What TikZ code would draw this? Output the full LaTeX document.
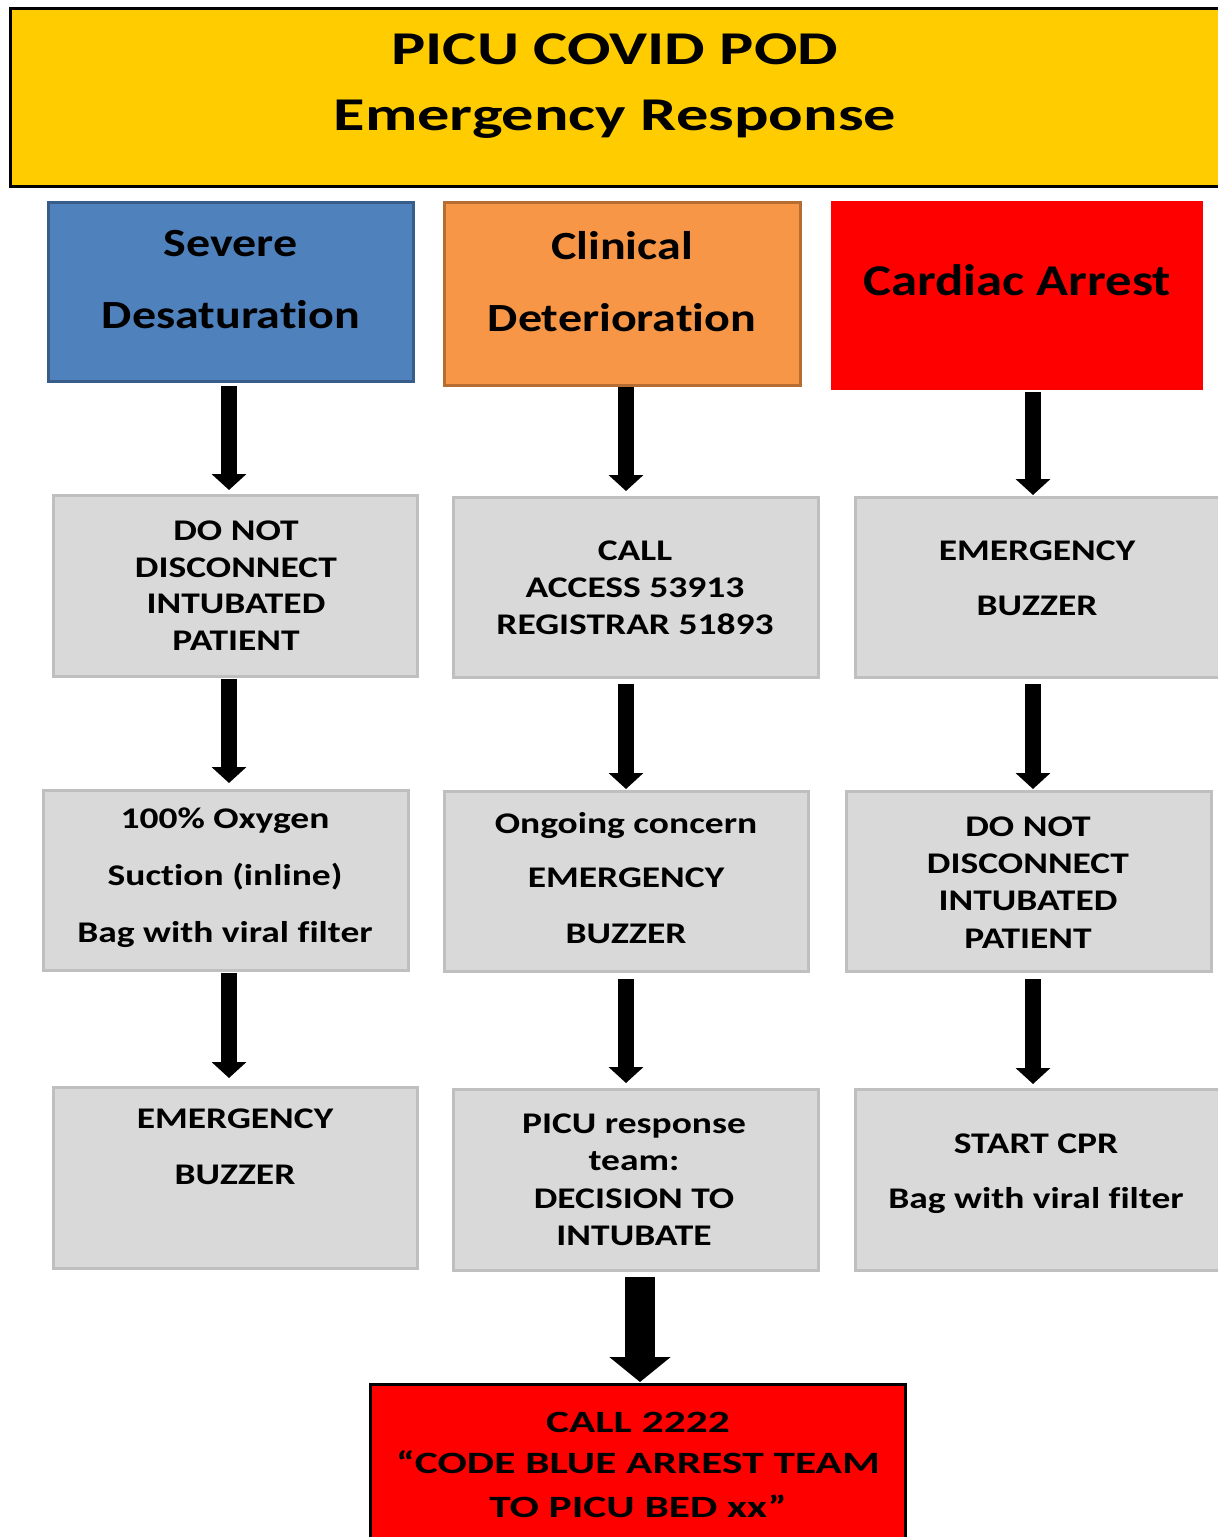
\documentclass[tikz,border=0pt]{standalone}
\usepackage{fontspec}
\usetikzlibrary{arrows.meta}

% Bold Carlito, widened to the proportions of the chart lettering
\newfontfamily\titlefont[FakeStretch=1.37,Ligatures=NoCommon]{Carlito Bold}
\newfontfamily\headfont[FakeStretch=1.2,Ligatures=NoCommon]{Carlito Bold}
\newfontfamily\bodyfont[FakeStretch=1.25,Ligatures=NoCommon]{Carlito Bold}
\newfontfamily\callfont[FakeStretch=1.4,Ligatures=NoCommon]{Carlito Bold}

\definecolor{titlegold}{HTML}{FFCC00}
\definecolor{blueFill}{HTML}{4F81BD}
\definecolor{blueEdge}{HTML}{385D8A}
\definecolor{orangeFill}{HTML}{F79646}
\definecolor{orangeEdge}{HTML}{B66D31}
\definecolor{alarmRed}{HTML}{FF0000}
\definecolor{greyFill}{HTML}{D9D9D9}
\definecolor{greyEdge}{HTML}{BFBFBF}

\tikzset{
  box/.style={rectangle, inner sep=0pt, outer sep=0pt, line width=3pt},
  stagebox/.style={box, fill=greyFill, draw=greyEdge, minimum width=365pt, minimum height=180pt},
  line/.style={anchor=base, inner sep=0pt, outer sep=0pt, text=black},
  titleline/.style={line, font=\titlefont\fontsize{47}{47}\selectfont},
  headline/.style={line, font=\headfont\fontsize{40}{40}\selectfont},
  headlinebig/.style={line, font=\headfont\fontsize{44}{44}\selectfont},
  bodyline/.style={line, font=\bodyfont\fontsize{30}{30}\selectfont},
  callline/.style={line, font=\callfont\fontsize{31}{31}\selectfont},
  flow/.style={draw=black, line width=16pt, -{Triangle[width=34pt,length=16pt]}},
  bigflow/.style={draw=black, line width=30pt, -{Triangle[width=60pt,length=25pt]}},
}

\begin{document}
\begin{tikzpicture}[x=1pt,y=-1pt]
\useasboundingbox (0,0) rectangle (1218,1537);
\clip (0,0) rectangle (1218,1537);
\fill[white] (0,0) rectangle (1218,1537);

% ---------- heading banner ----------
\node[box, fill=titlegold, draw=black, minimum width=1222pt, minimum height=178pt] (banner) at (621,97) {};
\node[titleline] (banner1) at (615,64) {PICU COVID POD};
\node[titleline] (banner2) at (615,130) {Emergency Response};

% ---------- three triggers ----------
\node[box, fill=blueFill, draw=blueEdge, minimum width=365pt, minimum height=179pt] (sev) at (230.5,291.5) {};
\node[headline] (sev1) at (230.5,256) {Severe};
\node[headline] (sev2) at (231,328) {Desaturation};

\node[box, fill=orangeFill, draw=orangeEdge, minimum width=356pt, minimum height=183pt] (clin) at (622,293.5) {};
\node[headline] (clin1) at (622,259) {Clinical};
\node[headline] (clin2) at (622,331) {Deterioration};

\node[box, fill=alarmRed, draw=alarmRed, minimum width=369pt, minimum height=186pt] (card) at (1016.5,295) {};
\node[headlinebig] (card1) at (1017,295) {Cardiac Arrest};

% ---------- second row ----------
\node[stagebox, minimum width=364pt, minimum height=181pt] (r2a) at (235,585.5) {};
\node[bodyline] (r2a1) at (236,540) {DO NOT};
\node[bodyline] (r2a2) at (236,577) {DISCONNECT};
\node[bodyline] (r2a3) at (236,613) {INTUBATED};
\node[bodyline] (r2a4) at (236,650) {PATIENT};

\node[stagebox] (r2b) at (635.5,587) {};
\node[bodyline] (r2b1) at (635,560) {CALL};
\node[bodyline] (r2b2) at (635,597) {ACCESS 53913};
\node[bodyline] (r2b3) at (635,634) {REGISTRAR 51893};

\node[stagebox] (r2c) at (1037.5,587) {};
\node[bodyline] (r2c1) at (1037,560) {EMERGENCY};
\node[bodyline] (r2c2) at (1037,615) {BUZZER};

% ---------- third row ----------
\node[stagebox] (r3a) at (225.5,880) {};
\node[bodyline] (r3a1) at (225,828) {100\% Oxygen};
\node[bodyline] (r3a2) at (225,885) {Suction (inline)};
\node[bodyline] (r3a3) at (225,942) {Bag with viral filter};

\node[stagebox, minimum width=364pt] (r3b) at (626,881) {};
\node[bodyline] (r3b1) at (626,833) {Ongoing concern};
\node[bodyline] (r3b2) at (626,887) {EMERGENCY};
\node[bodyline] (r3b3) at (626,943) {BUZZER};

\node[stagebox] (r3c) at (1028.5,881) {};
\node[bodyline] (r3c1) at (1028,836) {DO NOT};
\node[bodyline] (r3c2) at (1028,873) {DISCONNECT};
\node[bodyline] (r3c3) at (1028,910) {INTUBATED};
\node[bodyline] (r3c4) at (1028,948) {PATIENT};

% ---------- fourth row ----------
\node[stagebox, minimum width=364pt, minimum height=181pt] (r4a) at (235,1177.5) {};
\node[bodyline] (r4a1) at (235,1128) {EMERGENCY};
\node[bodyline] (r4a2) at (235,1184) {BUZZER};

\node[stagebox, minimum height=181pt] (r4b) at (635.5,1179.5) {};
\node[bodyline] (r4b1) at (634,1133) {PICU response};
\node[bodyline] (r4b2) at (634,1170) {team:};
\node[bodyline] (r4b3) at (634,1208) {DECISION TO};
\node[bodyline] (r4b4) at (634,1245) {INTUBATE};

\node[stagebox, minimum height=181pt] (r4c) at (1037.5,1179.5) {};
\node[bodyline] (r4c1) at (1036,1153) {START CPR};
\node[bodyline] (r4c2) at (1036,1208) {Bag with viral filter};

% ---------- arrest call ----------
\node[box, fill=alarmRed, draw=black, minimum width=535pt, minimum height=165pt] (arrest) at (637.5,1466.5) {};
\node[callline] (arrest1) at (638,1432) {CALL 2222};
\node[callline] (arrest2) at (638,1473) {“CODE BLUE ARREST TEAM};
\node[callline] (arrest3) at (638,1517) {TO PICU BED xx”};

% ---------- connectors ----------
\coordinate (colA) at (229,0);
\coordinate (colB) at (626,0);
\coordinate (colC) at (1033,0);
\coordinate (colM) at (640,0);

\draw[flow, shorten <=5pt, shorten >=5pt] (sev.south -| colA) -- (r2a.north -| colA);
\draw[flow, shorten <=3pt, shorten >=7pt] (r2a.south -| colA) -- (r3a.north -| colA);
\draw[flow, shorten <=3pt, shorten >=9pt] (r3a.south -| colA) -- (r4a.north -| colA);

\draw[flow, shorten <=2pt, shorten >=6pt] (clin.south -| colB) -- (r2b.north -| colB);
\draw[flow, shorten <=7pt, shorten >=2pt] (r2b.south -| colB) -- (r3b.north -| colB);
\draw[flow, shorten <=8pt, shorten >=6pt] (r3b.south -| colB) -- (r4b.north -| colB);

\draw[flow, shorten <=4pt, shorten >=2pt] (card.south -| colC) -- (r2c.north -| colC);
\draw[flow, shorten <=7pt, shorten >=2pt] (r2c.south -| colC) -- (r3c.north -| colC);
\draw[flow, shorten <=8pt, shorten >=5pt] (r3c.south -| colC) -- (r4c.north -| colC);

\draw[bigflow, shorten <=7pt, shorten >=2pt] (r4b.south -| colM) -- (arrest.north -| colM);
\end{tikzpicture}
\end{document}
